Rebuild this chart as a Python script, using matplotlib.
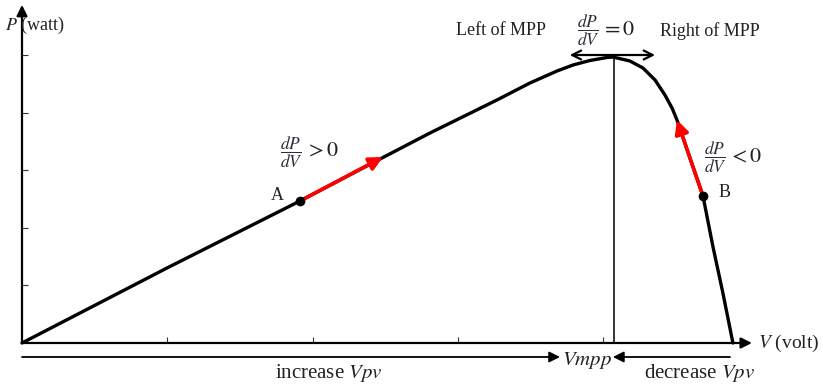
import numpy as np
import matplotlib.pyplot as plt

# P-V curve (V and P in tick units)
v_curve = [0.0, 0.998, 1.913, 2.464, 2.808, 3.269, 3.496, 3.682, 3.792, 3.909,
           4.026, 4.067, 4.184, 4.274, 4.357, 4.425, 4.474, 4.508, 4.597,
           4.687, 4.756, 4.824, 4.893]
p_curve = [0.0, 1.302, 2.465, 3.194, 3.646, 4.219, 4.514, 4.722, 4.826, 4.905,
           4.957, 4.965, 4.896, 4.774, 4.566, 4.306, 4.080, 3.872, 3.212,
           2.552, 1.667, 0.868, 0.0]

point_a = (1.913, 2.465)
arrow_a_tip = (2.485, 3.229)
point_b = (4.687, 2.552)
arrow_b_tip = (4.508, 3.872)
v_mpp = 4.074
p_mpp = 4.965

x_ticks = [1, 2, 3, 4]
y_ticks = [1, 2, 3, 4, 5]

plt.rcParams['font.family'] = ['Liberation Serif', 'DejaVu Serif']
plt.rcParams['mathtext.fontset'] = 'stix'

fig = plt.figure(figsize=(8.23, 3.84), dpi=100)
ax = fig.add_axes([0, 0, 1, 1])
ax.set_xlim(-0.1514, 5.513)
ax.set_ylim(-0.712, 5.955)

for s in ax.spines.values():
    s.set_visible(False)
ax.spines['left'].set_position(('data', 0))
ax.spines['bottom'].set_position(('data', 0))
ax.set_xticks(x_ticks)
ax.set_yticks(y_ticks)
ax.set_xticklabels([])
ax.set_yticklabels([])
ax.tick_params(direction='in', length=4, width=0.8, color='#333333')

# axes with arrow heads
ax.annotate('', xy=(5.024, 0), xytext=(0, 0),
            arrowprops=dict(arrowstyle='-|>', lw=1.6, color='black',
                            mutation_scale=16, shrinkA=0, shrinkB=0))
ax.annotate('', xy=(0, 5.87), xytext=(0, 0),
            arrowprops=dict(arrowstyle='-|>', lw=1.6, color='black',
                            mutation_scale=16, shrinkA=0, shrinkB=0))

# the curve
ax.plot(v_curve, p_curve, color='black', lw=2.4, solid_capstyle='round',
        solid_joinstyle='round', zorder=3)

# vertical line at MPP
ax.plot([v_mpp, v_mpp], [0, p_mpp], color='black', lw=1.1, zorder=2)

# double arrow at the top
ax.annotate('', xy=(4.357, 5.0), xytext=(3.77, 5.0),
            arrowprops=dict(arrowstyle='<->', lw=1.6, color='black',
                            mutation_scale=16, shrinkA=0, shrinkB=0))

# red arrows and operating points
ax.annotate('', xy=arrow_a_tip, xytext=point_a,
            arrowprops=dict(arrowstyle='-|>', lw=2.6, color='red',
                            mutation_scale=20, shrinkA=0, shrinkB=0), zorder=4)
ax.annotate('', xy=arrow_b_tip, xytext=point_b,
            arrowprops=dict(arrowstyle='-|>', lw=2.6, color='red',
                            mutation_scale=20, shrinkA=0, shrinkB=0), zorder=4)
ax.plot([point_a[0], point_b[0]], [point_a[1], point_b[1]], 'o',
        color='black', ms=6, zorder=5)

# bottom direction arrows
ax.annotate('', xy=(3.703, -0.243), xytext=(0, -0.243),
            arrowprops=dict(arrowstyle='-|>', lw=1.3, color='black',
                            mutation_scale=16, shrinkA=0, shrinkB=0))
ax.annotate('', xy=(4.067, -0.243), xytext=(4.873, -0.243),
            arrowprops=dict(arrowstyle='-|>', lw=1.3, color='black',
                            mutation_scale=16, shrinkA=0, shrinkB=0))

txt = '#222222'
frac_col = '#2b2f3a'
ax.text(-0.12, 5.52, r'$P$ (watt)', fontsize=13, color=txt, va='center')
ax.text(5.065, 0.0, r'$V$ (volt)', fontsize=14, color=txt, va='center')
ax.text(1.755, 2.56, 'A', fontsize=13, color=txt, ha='center', va='center')
ax.text(4.838, 2.61, 'B', fontsize=13, color=txt, ha='center', va='center')

# derivative labels: small fraction followed by a larger relation
ax.text(1.855, 3.31, r'$\dfrac{dP}{dV}$', fontsize=12.5, color=frac_col,
        ha='center', va='center')
ax.text(1.945, 3.31, r'$> 0$', fontsize=16, color=txt, va='center')
ax.text(4.773, 3.22, r'$\dfrac{dP}{dV}$', fontsize=12.5, color=frac_col,
        ha='center', va='center')
ax.text(4.862, 3.22, r'$< 0$', fontsize=16, color=txt, va='center')
ax.text(3.899, 5.43, r'$\dfrac{dP}{dV}$', fontsize=12.5, color=frac_col,
        ha='center', va='center')
ax.text(3.988, 5.43, r'$= 0$', fontsize=16, color=txt, va='center')

ax.text(3.297, 5.42, 'Left of MPP', fontsize=13, color=txt, ha='center', va='center')
ax.text(4.735, 5.42, 'Right of MPP', fontsize=13, color=txt, ha='center', va='center')
ax.text(3.72, -0.30, r'$Vmpp$', fontsize=15, color=txt, va='center')
ax.text(2.113, -0.52, r'increase $Vpv$', fontsize=15, color=txt, ha='center', va='center')
ax.text(4.665, -0.52, r'decrease $Vpv$', fontsize=15, color=txt, ha='center', va='center')

fig.savefig('out.png', dpi=100)
